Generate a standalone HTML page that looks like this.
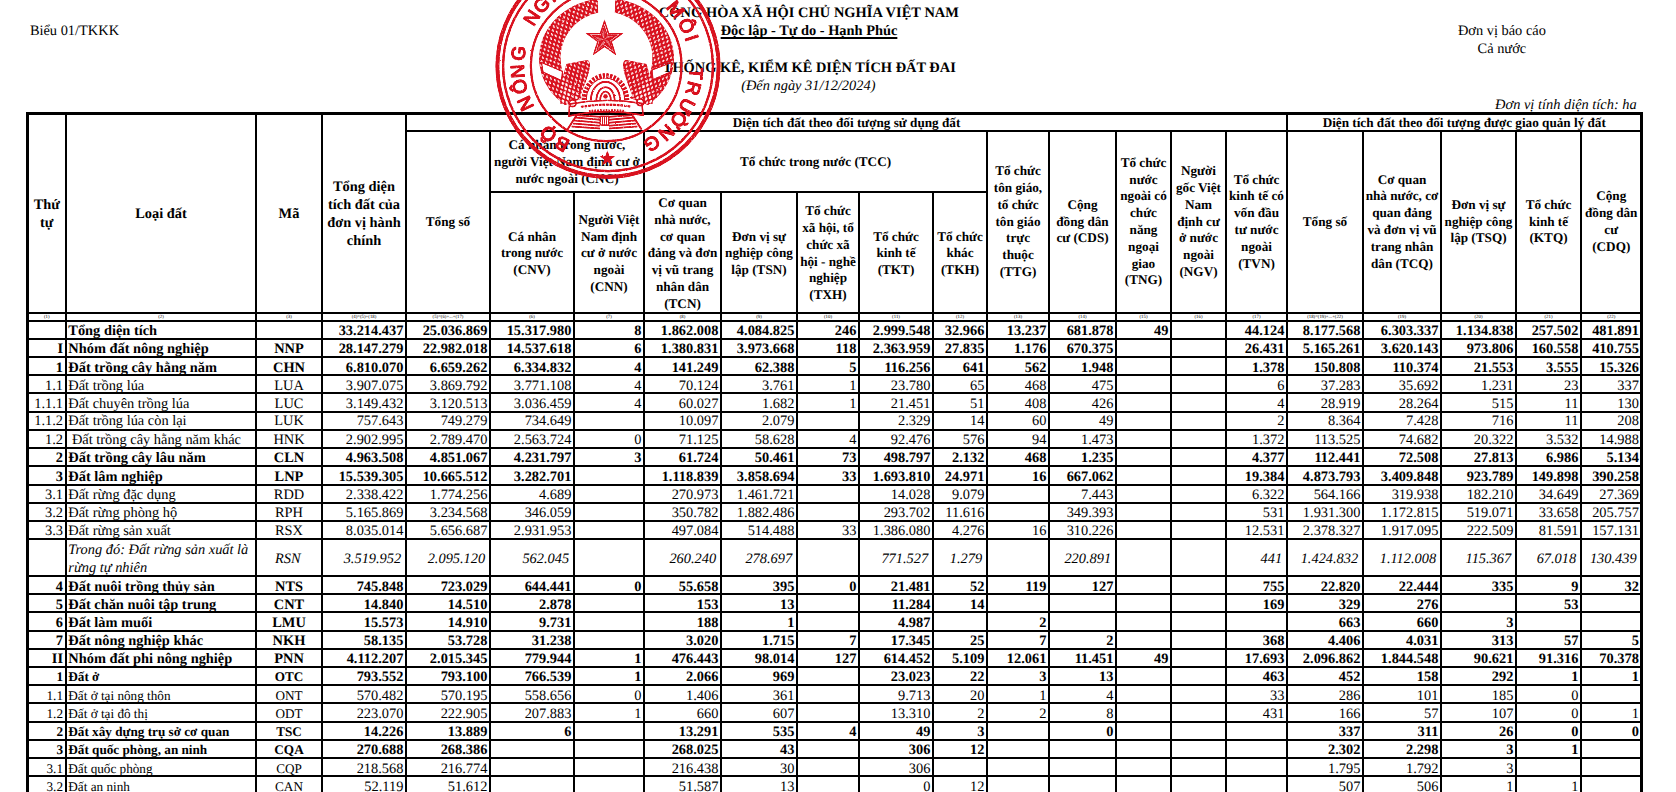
<!DOCTYPE html><html><head><meta charset="utf-8"><title>Bieu 01/TKKK</title><style>
html,body{margin:0;padding:0;background:#fff;width:1676px;height:792px;overflow:hidden}
#pg{text-rendering:geometricPrecision;width:1676px;height:792px;overflow:hidden;position:relative;font-family:"Liberation Serif",serif;color:#000;font-size:14.4px}
#pg div{position:absolute;white-space:nowrap;height:18px;line-height:18px;box-sizing:border-box}
.r{text-align:right}.m{text-align:center}.l{text-align:left}
.b{font-weight:bold}.i{font-style:italic}.s{font-size:13.2px}
.x{font-size:4.8px}
svg{position:absolute;left:0;top:0}

</style></head><body><div id="pg">
<svg width="1676" height="792" viewBox="0 0 1676 792" fill="#000" shape-rendering="crispEdges"><rect x="26" y="112" width="1617" height="3"/><rect x="405" y="130" width="1238" height="2"/><rect x="489" y="191" width="499" height="2"/><rect x="26" y="312" width="1617" height="2"/><rect x="26" y="320" width="1617" height="2"/><rect x="26" y="338" width="1617" height="2"/><rect x="26" y="356" width="1617" height="2"/><rect x="26" y="374" width="1617" height="2"/><rect x="26" y="392" width="1617" height="2"/><rect x="26" y="411" width="1617" height="2"/><rect x="26" y="429" width="1617" height="2"/><rect x="26" y="447" width="1617" height="2"/><rect x="26" y="465" width="1617" height="2"/><rect x="26" y="484" width="1617" height="2"/><rect x="26" y="502" width="1617" height="2"/><rect x="26" y="520" width="1617" height="2"/><rect x="26" y="538" width="1617" height="2"/><rect x="26" y="575" width="1617" height="2"/><rect x="26" y="593" width="1617" height="2"/><rect x="26" y="611" width="1617" height="2"/><rect x="26" y="630" width="1617" height="2"/><rect x="26" y="648" width="1617" height="2"/><rect x="26" y="666" width="1617" height="2"/><rect x="26" y="684" width="1617" height="2"/><rect x="26" y="702" width="1617" height="2"/><rect x="26" y="721" width="1617" height="2"/><rect x="26" y="739" width="1617" height="2"/><rect x="26" y="757" width="1617" height="2"/><rect x="26" y="775" width="1617" height="2"/><rect x="26" y="112" width="3" height="680"/><rect x="65" y="112" width="2" height="680"/><rect x="255" y="112" width="2" height="680"/><rect x="321" y="112" width="2" height="680"/><rect x="405" y="112" width="2" height="680"/><rect x="489" y="130" width="2" height="662"/><rect x="573" y="191" width="2" height="601"/><rect x="643" y="130" width="2" height="662"/><rect x="720" y="191" width="2" height="601"/><rect x="796" y="191" width="2" height="601"/><rect x="858" y="191" width="2" height="601"/><rect x="932" y="191" width="2" height="601"/><rect x="986" y="130" width="2" height="662"/><rect x="1048" y="130" width="2" height="662"/><rect x="1115" y="130" width="2" height="662"/><rect x="1170" y="130" width="2" height="662"/><rect x="1225" y="130" width="2" height="662"/><rect x="1286" y="112" width="2" height="680"/><rect x="1362" y="130" width="2" height="662"/><rect x="1440" y="130" width="2" height="662"/><rect x="1515" y="130" width="2" height="662"/><rect x="1580" y="130" width="2" height="662"/><rect x="1640" y="112" width="3" height="680"/></svg>
<div class="l " style="left:29.9px;width:270.1px;top:22px;">Biểu 01/TKKK</div>
<div class="m b" style="left:508.9px;width:600px;top:4px;letter-spacing:0.06px;">CỘNG HÒA XÃ HỘI CHỦ NGHĨA VIỆT NAM</div>
<div class="m b" style="left:509px;width:600px;top:22px;text-decoration:underline;text-decoration-thickness:1.8px;text-underline-offset:1.7px;text-decoration-skip-ink:none;">Độc lập - Tự do - Hạnh Phúc</div>
<div class="m b" style="left:509.3px;width:600px;top:59px;">THỐNG KÊ, KIỂM KÊ DIỆN TÍCH ĐẤT ĐAI</div>
<div class="m i" style="left:508.3px;width:600px;top:77px;">(Đến ngày 31/12/2024)</div>
<div class="m " style="left:1201.9px;width:600px;top:22px;">Đơn vị báo cáo</div>
<div class="m " style="left:1201.9px;width:600px;top:40px;">Cả nước</div>
<div class="r i" style="left:1200px;width:436.7px;top:96px;">Đơn vị tính diện tích: ha</div>
<div class="m b" style="left:27.5px;width:38.5px;top:196px;">Thứ</div>
<div class="m b" style="left:27.5px;width:38.5px;top:214px;">tự</div>
<div class="m b" style="left:66px;width:190px;top:205px;">Loại đất</div>
<div class="m b" style="left:256px;width:66px;top:205px;">Mã</div>
<div class="m b" style="left:322px;width:84px;top:178px;">Tổng diện</div>
<div class="m b" style="left:322px;width:84px;top:196px;">tích đất của</div>
<div class="m b" style="left:322px;width:84px;top:214px;">đơn vị hành</div>
<div class="m b" style="left:322px;width:84px;top:232px;">chính</div>
<div class="m b s" style="left:406px;width:881px;top:114px;">Diện tích đất theo đối tượng sử dụng đất</div>
<div class="m b s" style="left:1287px;width:354.5px;top:114px;">Diện tích đất theo đối tượng được giao quản lý đất</div>
<div class="m b s" style="left:406px;width:84px;top:213px;">Tổng số</div>
<div class="m b s" style="left:490px;width:154px;top:136px;">Cá nhân trong nước,</div>
<div class="m b s" style="left:490px;width:154px;top:153px;">người Việt Nam định cư ở</div>
<div class="m b s" style="left:490px;width:154px;top:170px;">nước ngoài (CNC)</div>
<div class="m b s" style="left:644px;width:343px;top:153px;">Tổ chức trong nước (TCC)</div>
<div class="m b s" style="left:490px;width:84px;top:228px;">Cá nhân</div>
<div class="m b s" style="left:490px;width:84px;top:244px;">trong nước</div>
<div class="m b s" style="left:490px;width:84px;top:261px;">(CNV)</div>
<div class="m b s" style="left:574px;width:70px;top:211px;">Người Việt</div>
<div class="m b s" style="left:574px;width:70px;top:228px;">Nam định</div>
<div class="m b s" style="left:574px;width:70px;top:244px;">cư ở nước</div>
<div class="m b s" style="left:574px;width:70px;top:261px;">ngoài</div>
<div class="m b s" style="left:574px;width:70px;top:278px;">(CNN)</div>
<div class="m b s" style="left:644px;width:77px;top:194px;">Cơ quan</div>
<div class="m b s" style="left:644px;width:77px;top:211px;">nhà nước,</div>
<div class="m b s" style="left:644px;width:77px;top:228px;">cơ quan</div>
<div class="m b s" style="left:644px;width:77px;top:244px;">đảng và đơn</div>
<div class="m b s" style="left:644px;width:77px;top:261px;">vị vũ trang</div>
<div class="m b s" style="left:644px;width:77px;top:278px;">nhân dân</div>
<div class="m b s" style="left:644px;width:77px;top:295px;">(TCN)</div>
<div class="m b s" style="left:721px;width:76px;top:228px;">Đơn vị sự</div>
<div class="m b s" style="left:721px;width:76px;top:244px;">nghiệp công</div>
<div class="m b s" style="left:721px;width:76px;top:261px;">lập (TSN)</div>
<div class="m b s" style="left:797px;width:62px;top:202px;">Tổ chức</div>
<div class="m b s" style="left:797px;width:62px;top:219px;">xã hội, tổ</div>
<div class="m b s" style="left:797px;width:62px;top:236px;">chức xã</div>
<div class="m b s" style="left:797px;width:62px;top:253px;">hội - nghề</div>
<div class="m b s" style="left:797px;width:62px;top:269px;">nghiệp</div>
<div class="m b s" style="left:797px;width:62px;top:286px;">(TXH)</div>
<div class="m b s" style="left:859px;width:74px;top:228px;">Tổ chức</div>
<div class="m b s" style="left:859px;width:74px;top:244px;">kinh tế</div>
<div class="m b s" style="left:859px;width:74px;top:261px;">(TKT)</div>
<div class="m b s" style="left:933px;width:54px;top:228px;">Tổ chức</div>
<div class="m b s" style="left:933px;width:54px;top:244px;">khác</div>
<div class="m b s" style="left:933px;width:54px;top:261px;">(TKH)</div>
<div class="m b s" style="left:987px;width:62px;top:162px;">Tổ chức</div>
<div class="m b s" style="left:987px;width:62px;top:179px;">tôn giáo,</div>
<div class="m b s" style="left:987px;width:62px;top:196px;">tổ chức</div>
<div class="m b s" style="left:987px;width:62px;top:213px;">tôn giáo</div>
<div class="m b s" style="left:987px;width:62px;top:229px;">trực</div>
<div class="m b s" style="left:987px;width:62px;top:246px;">thuộc</div>
<div class="m b s" style="left:987px;width:62px;top:263px;">(TTG)</div>
<div class="m b s" style="left:1049px;width:67px;top:196px;">Cộng</div>
<div class="m b s" style="left:1049px;width:67px;top:213px;">đồng dân</div>
<div class="m b s" style="left:1049px;width:67px;top:229px;">cư (CDS)</div>
<div class="m b s" style="left:1116px;width:55px;top:154px;">Tổ chức</div>
<div class="m b s" style="left:1116px;width:55px;top:171px;">nước</div>
<div class="m b s" style="left:1116px;width:55px;top:187px;">ngoài có</div>
<div class="m b s" style="left:1116px;width:55px;top:204px;">chức</div>
<div class="m b s" style="left:1116px;width:55px;top:221px;">năng</div>
<div class="m b s" style="left:1116px;width:55px;top:238px;">ngoại</div>
<div class="m b s" style="left:1116px;width:55px;top:255px;">giao</div>
<div class="m b s" style="left:1116px;width:55px;top:271px;">(TNG)</div>
<div class="m b s" style="left:1171px;width:55px;top:162px;">Người</div>
<div class="m b s" style="left:1171px;width:55px;top:179px;">gốc Việt</div>
<div class="m b s" style="left:1171px;width:55px;top:196px;">Nam</div>
<div class="m b s" style="left:1171px;width:55px;top:213px;">định cư</div>
<div class="m b s" style="left:1171px;width:55px;top:229px;">ở nước</div>
<div class="m b s" style="left:1171px;width:55px;top:246px;">ngoài</div>
<div class="m b s" style="left:1171px;width:55px;top:263px;">(NGV)</div>
<div class="m b s" style="left:1226px;width:61px;top:171px;">Tổ chức</div>
<div class="m b s" style="left:1226px;width:61px;top:187px;">kinh tế có</div>
<div class="m b s" style="left:1226px;width:61px;top:204px;">vốn đầu</div>
<div class="m b s" style="left:1226px;width:61px;top:221px;">tư nước</div>
<div class="m b s" style="left:1226px;width:61px;top:238px;">ngoài</div>
<div class="m b s" style="left:1226px;width:61px;top:255px;">(TVN)</div>
<div class="m b s" style="left:1287px;width:76px;top:213px;">Tổng số</div>
<div class="m b s" style="left:1363px;width:78px;top:171px;">Cơ quan</div>
<div class="m b s" style="left:1363px;width:78px;top:187px;">nhà nước, cơ</div>
<div class="m b s" style="left:1363px;width:78px;top:204px;">quan đảng</div>
<div class="m b s" style="left:1363px;width:78px;top:221px;">và đơn vị vũ</div>
<div class="m b s" style="left:1363px;width:78px;top:238px;">trang nhân</div>
<div class="m b s" style="left:1363px;width:78px;top:255px;">dân (TCQ)</div>
<div class="m b s" style="left:1441px;width:75px;top:196px;">Đơn vị sự</div>
<div class="m b s" style="left:1441px;width:75px;top:213px;">nghiệp công</div>
<div class="m b s" style="left:1441px;width:75px;top:229px;">lập (TSQ)</div>
<div class="m b s" style="left:1516px;width:65px;top:196px;">Tổ chức</div>
<div class="m b s" style="left:1516px;width:65px;top:213px;">kinh tế</div>
<div class="m b s" style="left:1516px;width:65px;top:229px;">(KTQ)</div>
<div class="m b s" style="left:1581px;width:60.5px;top:187px;">Cộng</div>
<div class="m b s" style="left:1581px;width:60.5px;top:204px;">đồng dân</div>
<div class="m b s" style="left:1581px;width:60.5px;top:221px;">cư</div>
<div class="m b s" style="left:1581px;width:60.5px;top:238px;">(CDQ)</div>
<div class="m x" style="left:27.5px;width:38.5px;top:314.4px;height:7px;line-height:7px">(1)</div>
<div class="m x" style="left:66px;width:190px;top:314.4px;height:7px;line-height:7px">(2)</div>
<div class="m x" style="left:256px;width:66px;top:314.4px;height:7px;line-height:7px">(3)</div>
<div class="m x" style="left:322px;width:84px;top:314.4px;height:7px;line-height:7px">(4)=(5)+(18)</div>
<div class="m x" style="left:406px;width:84px;top:314.4px;height:7px;line-height:7px">(5)=(6)+...+(17)</div>
<div class="m x" style="left:490px;width:84px;top:314.4px;height:7px;line-height:7px">(6)</div>
<div class="m x" style="left:574px;width:70px;top:314.4px;height:7px;line-height:7px">(7)</div>
<div class="m x" style="left:644px;width:77px;top:314.4px;height:7px;line-height:7px">(8)</div>
<div class="m x" style="left:721px;width:76px;top:314.4px;height:7px;line-height:7px">(9)</div>
<div class="m x" style="left:797px;width:62px;top:314.4px;height:7px;line-height:7px">(10)</div>
<div class="m x" style="left:859px;width:74px;top:314.4px;height:7px;line-height:7px">(11)</div>
<div class="m x" style="left:933px;width:54px;top:314.4px;height:7px;line-height:7px">(12)</div>
<div class="m x" style="left:987px;width:62px;top:314.4px;height:7px;line-height:7px">(13)</div>
<div class="m x" style="left:1049px;width:67px;top:314.4px;height:7px;line-height:7px">(14)</div>
<div class="m x" style="left:1116px;width:55px;top:314.4px;height:7px;line-height:7px">(15)</div>
<div class="m x" style="left:1171px;width:55px;top:314.4px;height:7px;line-height:7px">(16)</div>
<div class="m x" style="left:1226px;width:61px;top:314.4px;height:7px;line-height:7px">(17)</div>
<div class="m x" style="left:1287px;width:76px;top:314.4px;height:7px;line-height:7px">(18)=(19)+...+(22)</div>
<div class="m x" style="left:1363px;width:78px;top:314.4px;height:7px;line-height:7px">(19)</div>
<div class="m x" style="left:1441px;width:75px;top:314.4px;height:7px;line-height:7px">(20)</div>
<div class="m x" style="left:1516px;width:65px;top:314.4px;height:7px;line-height:7px">(21)</div>
<div class="m x" style="left:1581px;width:60.5px;top:314.4px;height:7px;line-height:7px">(22)</div>
<div class="l b" style="left:66px;width:190px;top:322px;padding-left:2.3px;">Tổng diện tích</div>
<div class="r b" style="left:322px;width:84px;top:322px;padding-right:2.6px;">33.214.437</div>
<div class="r b" style="left:406px;width:84px;top:322px;padding-right:2.6px;">25.036.869</div>
<div class="r b" style="left:490px;width:84px;top:322px;padding-right:2.6px;">15.317.980</div>
<div class="r b" style="left:574px;width:70px;top:322px;padding-right:2.6px;">8</div>
<div class="r b" style="left:644px;width:77px;top:322px;padding-right:2.6px;">1.862.008</div>
<div class="r b" style="left:721px;width:76px;top:322px;padding-right:2.6px;">4.084.825</div>
<div class="r b" style="left:797px;width:62px;top:322px;padding-right:2.6px;">246</div>
<div class="r b" style="left:859px;width:74px;top:322px;padding-right:2.6px;">2.999.548</div>
<div class="r b" style="left:933px;width:54px;top:322px;padding-right:2.6px;">32.966</div>
<div class="r b" style="left:987px;width:62px;top:322px;padding-right:2.6px;">13.237</div>
<div class="r b" style="left:1049px;width:67px;top:322px;padding-right:2.6px;">681.878</div>
<div class="r b" style="left:1116px;width:55px;top:322px;padding-right:2.6px;">49</div>
<div class="r b" style="left:1226px;width:61px;top:322px;padding-right:2.6px;">44.124</div>
<div class="r b" style="left:1287px;width:76px;top:322px;padding-right:2.6px;">8.177.568</div>
<div class="r b" style="left:1363px;width:78px;top:322px;padding-right:2.6px;">6.303.337</div>
<div class="r b" style="left:1441px;width:75px;top:322px;padding-right:2.6px;">1.134.838</div>
<div class="r b" style="left:1516px;width:65px;top:322px;padding-right:2.6px;">257.502</div>
<div class="r b" style="left:1581px;width:60.5px;top:322px;padding-right:2.6px;">481.891</div>
<div class="r b" style="left:27.5px;width:38.5px;top:340px;padding-right:3px;">I</div>
<div class="l b" style="left:66px;width:190px;top:340px;padding-left:2.3px;">Nhóm đất nông nghiệp</div>
<div class="m b" style="left:256px;width:66px;top:340px;">NNP</div>
<div class="r b" style="left:322px;width:84px;top:340px;padding-right:2.6px;">28.147.279</div>
<div class="r b" style="left:406px;width:84px;top:340px;padding-right:2.6px;">22.982.018</div>
<div class="r b" style="left:490px;width:84px;top:340px;padding-right:2.6px;">14.537.618</div>
<div class="r b" style="left:574px;width:70px;top:340px;padding-right:2.6px;">6</div>
<div class="r b" style="left:644px;width:77px;top:340px;padding-right:2.6px;">1.380.831</div>
<div class="r b" style="left:721px;width:76px;top:340px;padding-right:2.6px;">3.973.668</div>
<div class="r b" style="left:797px;width:62px;top:340px;padding-right:2.6px;">118</div>
<div class="r b" style="left:859px;width:74px;top:340px;padding-right:2.6px;">2.363.959</div>
<div class="r b" style="left:933px;width:54px;top:340px;padding-right:2.6px;">27.835</div>
<div class="r b" style="left:987px;width:62px;top:340px;padding-right:2.6px;">1.176</div>
<div class="r b" style="left:1049px;width:67px;top:340px;padding-right:2.6px;">670.375</div>
<div class="r b" style="left:1226px;width:61px;top:340px;padding-right:2.6px;">26.431</div>
<div class="r b" style="left:1287px;width:76px;top:340px;padding-right:2.6px;">5.165.261</div>
<div class="r b" style="left:1363px;width:78px;top:340px;padding-right:2.6px;">3.620.143</div>
<div class="r b" style="left:1441px;width:75px;top:340px;padding-right:2.6px;">973.806</div>
<div class="r b" style="left:1516px;width:65px;top:340px;padding-right:2.6px;">160.558</div>
<div class="r b" style="left:1581px;width:60.5px;top:340px;padding-right:2.6px;">410.755</div>
<div class="r b" style="left:27.5px;width:38.5px;top:359px;padding-right:3px;">1</div>
<div class="l b" style="left:66px;width:190px;top:359px;padding-left:2.3px;">Đất trồng cây hằng năm</div>
<div class="m b" style="left:256px;width:66px;top:359px;">CHN</div>
<div class="r b" style="left:322px;width:84px;top:359px;padding-right:2.6px;">6.810.070</div>
<div class="r b" style="left:406px;width:84px;top:359px;padding-right:2.6px;">6.659.262</div>
<div class="r b" style="left:490px;width:84px;top:359px;padding-right:2.6px;">6.334.832</div>
<div class="r b" style="left:574px;width:70px;top:359px;padding-right:2.6px;">4</div>
<div class="r b" style="left:644px;width:77px;top:359px;padding-right:2.6px;">141.249</div>
<div class="r b" style="left:721px;width:76px;top:359px;padding-right:2.6px;">62.388</div>
<div class="r b" style="left:797px;width:62px;top:359px;padding-right:2.6px;">5</div>
<div class="r b" style="left:859px;width:74px;top:359px;padding-right:2.6px;">116.256</div>
<div class="r b" style="left:933px;width:54px;top:359px;padding-right:2.6px;">641</div>
<div class="r b" style="left:987px;width:62px;top:359px;padding-right:2.6px;">562</div>
<div class="r b" style="left:1049px;width:67px;top:359px;padding-right:2.6px;">1.948</div>
<div class="r b" style="left:1226px;width:61px;top:359px;padding-right:2.6px;">1.378</div>
<div class="r b" style="left:1287px;width:76px;top:359px;padding-right:2.6px;">150.808</div>
<div class="r b" style="left:1363px;width:78px;top:359px;padding-right:2.6px;">110.374</div>
<div class="r b" style="left:1441px;width:75px;top:359px;padding-right:2.6px;">21.553</div>
<div class="r b" style="left:1516px;width:65px;top:359px;padding-right:2.6px;">3.555</div>
<div class="r b" style="left:1581px;width:60.5px;top:359px;padding-right:2.6px;">15.326</div>
<div class="r " style="left:27.5px;width:38.5px;top:377px;padding-right:3px;">1.1</div>
<div class="l " style="left:66px;width:190px;top:377px;padding-left:2.3px;">Đất trồng lúa</div>
<div class="m " style="left:256px;width:66px;top:377px;">LUA</div>
<div class="r " style="left:322px;width:84px;top:377px;padding-right:2.6px;">3.907.075</div>
<div class="r " style="left:406px;width:84px;top:377px;padding-right:2.6px;">3.869.792</div>
<div class="r " style="left:490px;width:84px;top:377px;padding-right:2.6px;">3.771.108</div>
<div class="r " style="left:574px;width:70px;top:377px;padding-right:2.6px;">4</div>
<div class="r " style="left:644px;width:77px;top:377px;padding-right:2.6px;">70.124</div>
<div class="r " style="left:721px;width:76px;top:377px;padding-right:2.6px;">3.761</div>
<div class="r " style="left:797px;width:62px;top:377px;padding-right:2.6px;">1</div>
<div class="r " style="left:859px;width:74px;top:377px;padding-right:2.6px;">23.780</div>
<div class="r " style="left:933px;width:54px;top:377px;padding-right:2.6px;">65</div>
<div class="r " style="left:987px;width:62px;top:377px;padding-right:2.6px;">468</div>
<div class="r " style="left:1049px;width:67px;top:377px;padding-right:2.6px;">475</div>
<div class="r " style="left:1226px;width:61px;top:377px;padding-right:2.6px;">6</div>
<div class="r " style="left:1287px;width:76px;top:377px;padding-right:2.6px;">37.283</div>
<div class="r " style="left:1363px;width:78px;top:377px;padding-right:2.6px;">35.692</div>
<div class="r " style="left:1441px;width:75px;top:377px;padding-right:2.6px;">1.231</div>
<div class="r " style="left:1516px;width:65px;top:377px;padding-right:2.6px;">23</div>
<div class="r " style="left:1581px;width:60.5px;top:377px;padding-right:2.6px;">337</div>
<div class="r " style="left:27.5px;width:38.5px;top:395px;padding-right:3px;">1.1.1</div>
<div class="l " style="left:66px;width:190px;top:395px;padding-left:2.3px;">Đất chuyên trồng lúa</div>
<div class="m " style="left:256px;width:66px;top:395px;">LUC</div>
<div class="r " style="left:322px;width:84px;top:395px;padding-right:2.6px;">3.149.432</div>
<div class="r " style="left:406px;width:84px;top:395px;padding-right:2.6px;">3.120.513</div>
<div class="r " style="left:490px;width:84px;top:395px;padding-right:2.6px;">3.036.459</div>
<div class="r " style="left:574px;width:70px;top:395px;padding-right:2.6px;">4</div>
<div class="r " style="left:644px;width:77px;top:395px;padding-right:2.6px;">60.027</div>
<div class="r " style="left:721px;width:76px;top:395px;padding-right:2.6px;">1.682</div>
<div class="r " style="left:797px;width:62px;top:395px;padding-right:2.6px;">1</div>
<div class="r " style="left:859px;width:74px;top:395px;padding-right:2.6px;">21.451</div>
<div class="r " style="left:933px;width:54px;top:395px;padding-right:2.6px;">51</div>
<div class="r " style="left:987px;width:62px;top:395px;padding-right:2.6px;">408</div>
<div class="r " style="left:1049px;width:67px;top:395px;padding-right:2.6px;">426</div>
<div class="r " style="left:1226px;width:61px;top:395px;padding-right:2.6px;">4</div>
<div class="r " style="left:1287px;width:76px;top:395px;padding-right:2.6px;">28.919</div>
<div class="r " style="left:1363px;width:78px;top:395px;padding-right:2.6px;">28.264</div>
<div class="r " style="left:1441px;width:75px;top:395px;padding-right:2.6px;">515</div>
<div class="r " style="left:1516px;width:65px;top:395px;padding-right:2.6px;">11</div>
<div class="r " style="left:1581px;width:60.5px;top:395px;padding-right:2.6px;">130</div>
<div class="r " style="left:27.5px;width:38.5px;top:412px;padding-right:3px;">1.1.2</div>
<div class="l " style="left:66px;width:190px;top:412px;padding-left:2.3px;">Đất trồng lúa còn lại</div>
<div class="m " style="left:256px;width:66px;top:412px;">LUK</div>
<div class="r " style="left:322px;width:84px;top:412px;padding-right:2.6px;">757.643</div>
<div class="r " style="left:406px;width:84px;top:412px;padding-right:2.6px;">749.279</div>
<div class="r " style="left:490px;width:84px;top:412px;padding-right:2.6px;">734.649</div>
<div class="r " style="left:644px;width:77px;top:412px;padding-right:2.6px;">10.097</div>
<div class="r " style="left:721px;width:76px;top:412px;padding-right:2.6px;">2.079</div>
<div class="r " style="left:859px;width:74px;top:412px;padding-right:2.6px;">2.329</div>
<div class="r " style="left:933px;width:54px;top:412px;padding-right:2.6px;">14</div>
<div class="r " style="left:987px;width:62px;top:412px;padding-right:2.6px;">60</div>
<div class="r " style="left:1049px;width:67px;top:412px;padding-right:2.6px;">49</div>
<div class="r " style="left:1226px;width:61px;top:412px;padding-right:2.6px;">2</div>
<div class="r " style="left:1287px;width:76px;top:412px;padding-right:2.6px;">8.364</div>
<div class="r " style="left:1363px;width:78px;top:412px;padding-right:2.6px;">7.428</div>
<div class="r " style="left:1441px;width:75px;top:412px;padding-right:2.6px;">716</div>
<div class="r " style="left:1516px;width:65px;top:412px;padding-right:2.6px;">11</div>
<div class="r " style="left:1581px;width:60.5px;top:412px;padding-right:2.6px;">208</div>
<div class="r " style="left:27.5px;width:38.5px;top:431px;padding-right:3px;">1.2</div>
<div class="l " style="left:66px;width:190px;top:431px;padding-left:2.3px;"> Đất trồng cây hằng năm khác</div>
<div class="m " style="left:256px;width:66px;top:431px;">HNK</div>
<div class="r " style="left:322px;width:84px;top:431px;padding-right:2.6px;">2.902.995</div>
<div class="r " style="left:406px;width:84px;top:431px;padding-right:2.6px;">2.789.470</div>
<div class="r " style="left:490px;width:84px;top:431px;padding-right:2.6px;">2.563.724</div>
<div class="r " style="left:574px;width:70px;top:431px;padding-right:2.6px;">0</div>
<div class="r " style="left:644px;width:77px;top:431px;padding-right:2.6px;">71.125</div>
<div class="r " style="left:721px;width:76px;top:431px;padding-right:2.6px;">58.628</div>
<div class="r " style="left:797px;width:62px;top:431px;padding-right:2.6px;">4</div>
<div class="r " style="left:859px;width:74px;top:431px;padding-right:2.6px;">92.476</div>
<div class="r " style="left:933px;width:54px;top:431px;padding-right:2.6px;">576</div>
<div class="r " style="left:987px;width:62px;top:431px;padding-right:2.6px;">94</div>
<div class="r " style="left:1049px;width:67px;top:431px;padding-right:2.6px;">1.473</div>
<div class="r " style="left:1226px;width:61px;top:431px;padding-right:2.6px;">1.372</div>
<div class="r " style="left:1287px;width:76px;top:431px;padding-right:2.6px;">113.525</div>
<div class="r " style="left:1363px;width:78px;top:431px;padding-right:2.6px;">74.682</div>
<div class="r " style="left:1441px;width:75px;top:431px;padding-right:2.6px;">20.322</div>
<div class="r " style="left:1516px;width:65px;top:431px;padding-right:2.6px;">3.532</div>
<div class="r " style="left:1581px;width:60.5px;top:431px;padding-right:2.6px;">14.988</div>
<div class="r b" style="left:27.5px;width:38.5px;top:449px;padding-right:3px;">2</div>
<div class="l b" style="left:66px;width:190px;top:449px;padding-left:2.3px;">Đất trồng cây lâu năm</div>
<div class="m b" style="left:256px;width:66px;top:449px;">CLN</div>
<div class="r b" style="left:322px;width:84px;top:449px;padding-right:2.6px;">4.963.508</div>
<div class="r b" style="left:406px;width:84px;top:449px;padding-right:2.6px;">4.851.067</div>
<div class="r b" style="left:490px;width:84px;top:449px;padding-right:2.6px;">4.231.797</div>
<div class="r b" style="left:574px;width:70px;top:449px;padding-right:2.6px;">3</div>
<div class="r b" style="left:644px;width:77px;top:449px;padding-right:2.6px;">61.724</div>
<div class="r b" style="left:721px;width:76px;top:449px;padding-right:2.6px;">50.461</div>
<div class="r b" style="left:797px;width:62px;top:449px;padding-right:2.6px;">73</div>
<div class="r b" style="left:859px;width:74px;top:449px;padding-right:2.6px;">498.797</div>
<div class="r b" style="left:933px;width:54px;top:449px;padding-right:2.6px;">2.132</div>
<div class="r b" style="left:987px;width:62px;top:449px;padding-right:2.6px;">468</div>
<div class="r b" style="left:1049px;width:67px;top:449px;padding-right:2.6px;">1.235</div>
<div class="r b" style="left:1226px;width:61px;top:449px;padding-right:2.6px;">4.377</div>
<div class="r b" style="left:1287px;width:76px;top:449px;padding-right:2.6px;">112.441</div>
<div class="r b" style="left:1363px;width:78px;top:449px;padding-right:2.6px;">72.508</div>
<div class="r b" style="left:1441px;width:75px;top:449px;padding-right:2.6px;">27.813</div>
<div class="r b" style="left:1516px;width:65px;top:449px;padding-right:2.6px;">6.986</div>
<div class="r b" style="left:1581px;width:60.5px;top:449px;padding-right:2.6px;">5.134</div>
<div class="r b" style="left:27.5px;width:38.5px;top:468px;padding-right:3px;">3</div>
<div class="l b" style="left:66px;width:190px;top:468px;padding-left:2.3px;">Đất lâm nghiệp</div>
<div class="m b" style="left:256px;width:66px;top:468px;">LNP</div>
<div class="r b" style="left:322px;width:84px;top:468px;padding-right:2.6px;">15.539.305</div>
<div class="r b" style="left:406px;width:84px;top:468px;padding-right:2.6px;">10.665.512</div>
<div class="r b" style="left:490px;width:84px;top:468px;padding-right:2.6px;">3.282.701</div>
<div class="r b" style="left:644px;width:77px;top:468px;padding-right:2.6px;">1.118.839</div>
<div class="r b" style="left:721px;width:76px;top:468px;padding-right:2.6px;">3.858.694</div>
<div class="r b" style="left:797px;width:62px;top:468px;padding-right:2.6px;">33</div>
<div class="r b" style="left:859px;width:74px;top:468px;padding-right:2.6px;">1.693.810</div>
<div class="r b" style="left:933px;width:54px;top:468px;padding-right:2.6px;">24.971</div>
<div class="r b" style="left:987px;width:62px;top:468px;padding-right:2.6px;">16</div>
<div class="r b" style="left:1049px;width:67px;top:468px;padding-right:2.6px;">667.062</div>
<div class="r b" style="left:1226px;width:61px;top:468px;padding-right:2.6px;">19.384</div>
<div class="r b" style="left:1287px;width:76px;top:468px;padding-right:2.6px;">4.873.793</div>
<div class="r b" style="left:1363px;width:78px;top:468px;padding-right:2.6px;">3.409.848</div>
<div class="r b" style="left:1441px;width:75px;top:468px;padding-right:2.6px;">923.789</div>
<div class="r b" style="left:1516px;width:65px;top:468px;padding-right:2.6px;">149.898</div>
<div class="r b" style="left:1581px;width:60.5px;top:468px;padding-right:2.6px;">390.258</div>
<div class="r " style="left:27.5px;width:38.5px;top:486px;padding-right:3px;">3.1</div>
<div class="l " style="left:66px;width:190px;top:486px;padding-left:2.3px;">Đất rừng đặc dụng</div>
<div class="m " style="left:256px;width:66px;top:486px;">RDD</div>
<div class="r " style="left:322px;width:84px;top:486px;padding-right:2.6px;">2.338.422</div>
<div class="r " style="left:406px;width:84px;top:486px;padding-right:2.6px;">1.774.256</div>
<div class="r " style="left:490px;width:84px;top:486px;padding-right:2.6px;">4.689</div>
<div class="r " style="left:644px;width:77px;top:486px;padding-right:2.6px;">270.973</div>
<div class="r " style="left:721px;width:76px;top:486px;padding-right:2.6px;">1.461.721</div>
<div class="r " style="left:859px;width:74px;top:486px;padding-right:2.6px;">14.028</div>
<div class="r " style="left:933px;width:54px;top:486px;padding-right:2.6px;">9.079</div>
<div class="r " style="left:1049px;width:67px;top:486px;padding-right:2.6px;">7.443</div>
<div class="r " style="left:1226px;width:61px;top:486px;padding-right:2.6px;">6.322</div>
<div class="r " style="left:1287px;width:76px;top:486px;padding-right:2.6px;">564.166</div>
<div class="r " style="left:1363px;width:78px;top:486px;padding-right:2.6px;">319.938</div>
<div class="r " style="left:1441px;width:75px;top:486px;padding-right:2.6px;">182.210</div>
<div class="r " style="left:1516px;width:65px;top:486px;padding-right:2.6px;">34.649</div>
<div class="r " style="left:1581px;width:60.5px;top:486px;padding-right:2.6px;">27.369</div>
<div class="r " style="left:27.5px;width:38.5px;top:504px;padding-right:3px;">3.2</div>
<div class="l " style="left:66px;width:190px;top:504px;padding-left:2.3px;">Đất rừng phòng hộ</div>
<div class="m " style="left:256px;width:66px;top:504px;">RPH</div>
<div class="r " style="left:322px;width:84px;top:504px;padding-right:2.6px;">5.165.869</div>
<div class="r " style="left:406px;width:84px;top:504px;padding-right:2.6px;">3.234.568</div>
<div class="r " style="left:490px;width:84px;top:504px;padding-right:2.6px;">346.059</div>
<div class="r " style="left:644px;width:77px;top:504px;padding-right:2.6px;">350.782</div>
<div class="r " style="left:721px;width:76px;top:504px;padding-right:2.6px;">1.882.486</div>
<div class="r " style="left:859px;width:74px;top:504px;padding-right:2.6px;">293.702</div>
<div class="r " style="left:933px;width:54px;top:504px;padding-right:2.6px;">11.616</div>
<div class="r " style="left:1049px;width:67px;top:504px;padding-right:2.6px;">349.393</div>
<div class="r " style="left:1226px;width:61px;top:504px;padding-right:2.6px;">531</div>
<div class="r " style="left:1287px;width:76px;top:504px;padding-right:2.6px;">1.931.300</div>
<div class="r " style="left:1363px;width:78px;top:504px;padding-right:2.6px;">1.172.815</div>
<div class="r " style="left:1441px;width:75px;top:504px;padding-right:2.6px;">519.071</div>
<div class="r " style="left:1516px;width:65px;top:504px;padding-right:2.6px;">33.658</div>
<div class="r " style="left:1581px;width:60.5px;top:504px;padding-right:2.6px;">205.757</div>
<div class="r " style="left:27.5px;width:38.5px;top:522px;padding-right:3px;">3.3</div>
<div class="l " style="left:66px;width:190px;top:522px;padding-left:2.3px;">Đất rừng sản xuất</div>
<div class="m " style="left:256px;width:66px;top:522px;">RSX</div>
<div class="r " style="left:322px;width:84px;top:522px;padding-right:2.6px;">8.035.014</div>
<div class="r " style="left:406px;width:84px;top:522px;padding-right:2.6px;">5.656.687</div>
<div class="r " style="left:490px;width:84px;top:522px;padding-right:2.6px;">2.931.953</div>
<div class="r " style="left:644px;width:77px;top:522px;padding-right:2.6px;">497.084</div>
<div class="r " style="left:721px;width:76px;top:522px;padding-right:2.6px;">514.488</div>
<div class="r " style="left:797px;width:62px;top:522px;padding-right:2.6px;">33</div>
<div class="r " style="left:859px;width:74px;top:522px;padding-right:2.6px;">1.386.080</div>
<div class="r " style="left:933px;width:54px;top:522px;padding-right:2.6px;">4.276</div>
<div class="r " style="left:987px;width:62px;top:522px;padding-right:2.6px;">16</div>
<div class="r " style="left:1049px;width:67px;top:522px;padding-right:2.6px;">310.226</div>
<div class="r " style="left:1226px;width:61px;top:522px;padding-right:2.6px;">12.531</div>
<div class="r " style="left:1287px;width:76px;top:522px;padding-right:2.6px;">2.378.327</div>
<div class="r " style="left:1363px;width:78px;top:522px;padding-right:2.6px;">1.917.095</div>
<div class="r " style="left:1441px;width:75px;top:522px;padding-right:2.6px;">222.509</div>
<div class="r " style="left:1516px;width:65px;top:522px;padding-right:2.6px;">81.591</div>
<div class="r " style="left:1581px;width:60.5px;top:522px;padding-right:2.6px;">157.131</div>
<div class="l  i" style="left:66px;width:190px;top:541px;padding-left:2.3px;">Trong đó: Đất rừng sản xuất là</div>
<div class="l  i" style="left:66px;width:190px;top:559px;padding-left:2.3px;">rừng tự nhiên</div>
<div class="m  i" style="left:254.8px;width:66px;top:550px;">RSN</div>
<div class="r  i" style="left:322px;width:84px;top:550px;padding-right:4.8px;">3.519.952</div>
<div class="r  i" style="left:406px;width:84px;top:550px;padding-right:4.8px;">2.095.120</div>
<div class="r  i" style="left:490px;width:84px;top:550px;padding-right:4.8px;">562.045</div>
<div class="r  i" style="left:644px;width:77px;top:550px;padding-right:4.8px;">260.240</div>
<div class="r  i" style="left:721px;width:76px;top:550px;padding-right:4.8px;">278.697</div>
<div class="r  i" style="left:859px;width:74px;top:550px;padding-right:4.8px;">771.527</div>
<div class="r  i" style="left:933px;width:54px;top:550px;padding-right:4.8px;">1.279</div>
<div class="r  i" style="left:1049px;width:67px;top:550px;padding-right:4.8px;">220.891</div>
<div class="r  i" style="left:1226px;width:61px;top:550px;padding-right:4.8px;">441</div>
<div class="r  i" style="left:1287px;width:76px;top:550px;padding-right:4.8px;">1.424.832</div>
<div class="r  i" style="left:1363px;width:78px;top:550px;padding-right:4.8px;">1.112.008</div>
<div class="r  i" style="left:1441px;width:75px;top:550px;padding-right:4.8px;">115.367</div>
<div class="r  i" style="left:1516px;width:65px;top:550px;padding-right:4.8px;">67.018</div>
<div class="r  i" style="left:1581px;width:60.5px;top:550px;padding-right:4.8px;">130.439</div>
<div class="r b" style="left:27.5px;width:38.5px;top:578px;padding-right:3px;">4</div>
<div class="l b" style="left:66px;width:190px;top:578px;padding-left:2.3px;">Đất nuôi trồng thủy sản</div>
<div class="m b" style="left:256px;width:66px;top:578px;">NTS</div>
<div class="r b" style="left:322px;width:84px;top:578px;padding-right:2.6px;">745.848</div>
<div class="r b" style="left:406px;width:84px;top:578px;padding-right:2.6px;">723.029</div>
<div class="r b" style="left:490px;width:84px;top:578px;padding-right:2.6px;">644.441</div>
<div class="r b" style="left:574px;width:70px;top:578px;padding-right:2.6px;">0</div>
<div class="r b" style="left:644px;width:77px;top:578px;padding-right:2.6px;">55.658</div>
<div class="r b" style="left:721px;width:76px;top:578px;padding-right:2.6px;">395</div>
<div class="r b" style="left:797px;width:62px;top:578px;padding-right:2.6px;">0</div>
<div class="r b" style="left:859px;width:74px;top:578px;padding-right:2.6px;">21.481</div>
<div class="r b" style="left:933px;width:54px;top:578px;padding-right:2.6px;">52</div>
<div class="r b" style="left:987px;width:62px;top:578px;padding-right:2.6px;">119</div>
<div class="r b" style="left:1049px;width:67px;top:578px;padding-right:2.6px;">127</div>
<div class="r b" style="left:1226px;width:61px;top:578px;padding-right:2.6px;">755</div>
<div class="r b" style="left:1287px;width:76px;top:578px;padding-right:2.6px;">22.820</div>
<div class="r b" style="left:1363px;width:78px;top:578px;padding-right:2.6px;">22.444</div>
<div class="r b" style="left:1441px;width:75px;top:578px;padding-right:2.6px;">335</div>
<div class="r b" style="left:1516px;width:65px;top:578px;padding-right:2.6px;">9</div>
<div class="r b" style="left:1581px;width:60.5px;top:578px;padding-right:2.6px;">32</div>
<div class="r b" style="left:27.5px;width:38.5px;top:596px;padding-right:3px;">5</div>
<div class="l b" style="left:66px;width:190px;top:596px;padding-left:2.3px;">Đất chăn nuôi tập trung</div>
<div class="m b" style="left:256px;width:66px;top:596px;">CNT</div>
<div class="r b" style="left:322px;width:84px;top:596px;padding-right:2.6px;">14.840</div>
<div class="r b" style="left:406px;width:84px;top:596px;padding-right:2.6px;">14.510</div>
<div class="r b" style="left:490px;width:84px;top:596px;padding-right:2.6px;">2.878</div>
<div class="r b" style="left:644px;width:77px;top:596px;padding-right:2.6px;">153</div>
<div class="r b" style="left:721px;width:76px;top:596px;padding-right:2.6px;">13</div>
<div class="r b" style="left:859px;width:74px;top:596px;padding-right:2.6px;">11.284</div>
<div class="r b" style="left:933px;width:54px;top:596px;padding-right:2.6px;">14</div>
<div class="r b" style="left:1226px;width:61px;top:596px;padding-right:2.6px;">169</div>
<div class="r b" style="left:1287px;width:76px;top:596px;padding-right:2.6px;">329</div>
<div class="r b" style="left:1363px;width:78px;top:596px;padding-right:2.6px;">276</div>
<div class="r b" style="left:1516px;width:65px;top:596px;padding-right:2.6px;">53</div>
<div class="r b" style="left:27.5px;width:38.5px;top:614px;padding-right:3px;">6</div>
<div class="l b" style="left:66px;width:190px;top:614px;padding-left:2.3px;">Đất làm muối</div>
<div class="m b" style="left:256px;width:66px;top:614px;">LMU</div>
<div class="r b" style="left:322px;width:84px;top:614px;padding-right:2.6px;">15.573</div>
<div class="r b" style="left:406px;width:84px;top:614px;padding-right:2.6px;">14.910</div>
<div class="r b" style="left:490px;width:84px;top:614px;padding-right:2.6px;">9.731</div>
<div class="r b" style="left:644px;width:77px;top:614px;padding-right:2.6px;">188</div>
<div class="r b" style="left:721px;width:76px;top:614px;padding-right:2.6px;">1</div>
<div class="r b" style="left:859px;width:74px;top:614px;padding-right:2.6px;">4.987</div>
<div class="r b" style="left:987px;width:62px;top:614px;padding-right:2.6px;">2</div>
<div class="r b" style="left:1287px;width:76px;top:614px;padding-right:2.6px;">663</div>
<div class="r b" style="left:1363px;width:78px;top:614px;padding-right:2.6px;">660</div>
<div class="r b" style="left:1441px;width:75px;top:614px;padding-right:2.6px;">3</div>
<div class="r b" style="left:27.5px;width:38.5px;top:632px;padding-right:3px;">7</div>
<div class="l b" style="left:66px;width:190px;top:632px;padding-left:2.3px;">Đất nông nghiệp khác</div>
<div class="m b" style="left:256px;width:66px;top:632px;">NKH</div>
<div class="r b" style="left:322px;width:84px;top:632px;padding-right:2.6px;">58.135</div>
<div class="r b" style="left:406px;width:84px;top:632px;padding-right:2.6px;">53.728</div>
<div class="r b" style="left:490px;width:84px;top:632px;padding-right:2.6px;">31.238</div>
<div class="r b" style="left:644px;width:77px;top:632px;padding-right:2.6px;">3.020</div>
<div class="r b" style="left:721px;width:76px;top:632px;padding-right:2.6px;">1.715</div>
<div class="r b" style="left:797px;width:62px;top:632px;padding-right:2.6px;">7</div>
<div class="r b" style="left:859px;width:74px;top:632px;padding-right:2.6px;">17.345</div>
<div class="r b" style="left:933px;width:54px;top:632px;padding-right:2.6px;">25</div>
<div class="r b" style="left:987px;width:62px;top:632px;padding-right:2.6px;">7</div>
<div class="r b" style="left:1049px;width:67px;top:632px;padding-right:2.6px;">2</div>
<div class="r b" style="left:1226px;width:61px;top:632px;padding-right:2.6px;">368</div>
<div class="r b" style="left:1287px;width:76px;top:632px;padding-right:2.6px;">4.406</div>
<div class="r b" style="left:1363px;width:78px;top:632px;padding-right:2.6px;">4.031</div>
<div class="r b" style="left:1441px;width:75px;top:632px;padding-right:2.6px;">313</div>
<div class="r b" style="left:1516px;width:65px;top:632px;padding-right:2.6px;">57</div>
<div class="r b" style="left:1581px;width:60.5px;top:632px;padding-right:2.6px;">5</div>
<div class="r b" style="left:27.5px;width:38.5px;top:650px;padding-right:3px;">II</div>
<div class="l b" style="left:66px;width:190px;top:650px;padding-left:2.3px;">Nhóm đất phi nông nghiệp</div>
<div class="m b" style="left:256px;width:66px;top:650px;">PNN</div>
<div class="r b" style="left:322px;width:84px;top:650px;padding-right:2.6px;">4.112.207</div>
<div class="r b" style="left:406px;width:84px;top:650px;padding-right:2.6px;">2.015.345</div>
<div class="r b" style="left:490px;width:84px;top:650px;padding-right:2.6px;">779.944</div>
<div class="r b" style="left:574px;width:70px;top:650px;padding-right:2.6px;">1</div>
<div class="r b" style="left:644px;width:77px;top:650px;padding-right:2.6px;">476.443</div>
<div class="r b" style="left:721px;width:76px;top:650px;padding-right:2.6px;">98.014</div>
<div class="r b" style="left:797px;width:62px;top:650px;padding-right:2.6px;">127</div>
<div class="r b" style="left:859px;width:74px;top:650px;padding-right:2.6px;">614.452</div>
<div class="r b" style="left:933px;width:54px;top:650px;padding-right:2.6px;">5.109</div>
<div class="r b" style="left:987px;width:62px;top:650px;padding-right:2.6px;">12.061</div>
<div class="r b" style="left:1049px;width:67px;top:650px;padding-right:2.6px;">11.451</div>
<div class="r b" style="left:1116px;width:55px;top:650px;padding-right:2.6px;">49</div>
<div class="r b" style="left:1226px;width:61px;top:650px;padding-right:2.6px;">17.693</div>
<div class="r b" style="left:1287px;width:76px;top:650px;padding-right:2.6px;">2.096.862</div>
<div class="r b" style="left:1363px;width:78px;top:650px;padding-right:2.6px;">1.844.548</div>
<div class="r b" style="left:1441px;width:75px;top:650px;padding-right:2.6px;">90.621</div>
<div class="r b" style="left:1516px;width:65px;top:650px;padding-right:2.6px;">91.316</div>
<div class="r b" style="left:1581px;width:60.5px;top:650px;padding-right:2.6px;">70.378</div>
<div class="r b s" style="left:27.5px;width:38.5px;top:668px;padding-right:3px;">1</div>
<div class="l b s" style="left:66px;width:190px;top:668px;padding-left:2.3px;">Đất ở</div>
<div class="m b s" style="left:256px;width:66px;top:668px;">OTC</div>
<div class="r b" style="left:322px;width:84px;top:668px;padding-right:2.6px;">793.552</div>
<div class="r b" style="left:406px;width:84px;top:668px;padding-right:2.6px;">793.100</div>
<div class="r b" style="left:490px;width:84px;top:668px;padding-right:2.6px;">766.539</div>
<div class="r b" style="left:574px;width:70px;top:668px;padding-right:2.6px;">1</div>
<div class="r b" style="left:644px;width:77px;top:668px;padding-right:2.6px;">2.066</div>
<div class="r b" style="left:721px;width:76px;top:668px;padding-right:2.6px;">969</div>
<div class="r b" style="left:859px;width:74px;top:668px;padding-right:2.6px;">23.023</div>
<div class="r b" style="left:933px;width:54px;top:668px;padding-right:2.6px;">22</div>
<div class="r b" style="left:987px;width:62px;top:668px;padding-right:2.6px;">3</div>
<div class="r b" style="left:1049px;width:67px;top:668px;padding-right:2.6px;">13</div>
<div class="r b" style="left:1226px;width:61px;top:668px;padding-right:2.6px;">463</div>
<div class="r b" style="left:1287px;width:76px;top:668px;padding-right:2.6px;">452</div>
<div class="r b" style="left:1363px;width:78px;top:668px;padding-right:2.6px;">158</div>
<div class="r b" style="left:1441px;width:75px;top:668px;padding-right:2.6px;">292</div>
<div class="r b" style="left:1516px;width:65px;top:668px;padding-right:2.6px;">1</div>
<div class="r b" style="left:1581px;width:60.5px;top:668px;padding-right:2.6px;">1</div>
<div class="r  s" style="left:27.5px;width:38.5px;top:687px;padding-right:3px;">1.1</div>
<div class="l  s" style="left:66px;width:190px;top:687px;padding-left:2.3px;">Đất ở tại nông thôn</div>
<div class="m  s" style="left:256px;width:66px;top:687px;">ONT</div>
<div class="r " style="left:322px;width:84px;top:687px;padding-right:2.6px;">570.482</div>
<div class="r " style="left:406px;width:84px;top:687px;padding-right:2.6px;">570.195</div>
<div class="r " style="left:490px;width:84px;top:687px;padding-right:2.6px;">558.656</div>
<div class="r " style="left:574px;width:70px;top:687px;padding-right:2.6px;">0</div>
<div class="r " style="left:644px;width:77px;top:687px;padding-right:2.6px;">1.406</div>
<div class="r " style="left:721px;width:76px;top:687px;padding-right:2.6px;">361</div>
<div class="r " style="left:859px;width:74px;top:687px;padding-right:2.6px;">9.713</div>
<div class="r " style="left:933px;width:54px;top:687px;padding-right:2.6px;">20</div>
<div class="r " style="left:987px;width:62px;top:687px;padding-right:2.6px;">1</div>
<div class="r " style="left:1049px;width:67px;top:687px;padding-right:2.6px;">4</div>
<div class="r " style="left:1226px;width:61px;top:687px;padding-right:2.6px;">33</div>
<div class="r " style="left:1287px;width:76px;top:687px;padding-right:2.6px;">286</div>
<div class="r " style="left:1363px;width:78px;top:687px;padding-right:2.6px;">101</div>
<div class="r " style="left:1441px;width:75px;top:687px;padding-right:2.6px;">185</div>
<div class="r " style="left:1516px;width:65px;top:687px;padding-right:2.6px;">0</div>
<div class="r  s" style="left:27.5px;width:38.5px;top:705px;padding-right:3px;">1.2</div>
<div class="l  s" style="left:66px;width:190px;top:705px;padding-left:2.3px;">Đất ở tại đô thị</div>
<div class="m  s" style="left:256px;width:66px;top:705px;">ODT</div>
<div class="r " style="left:322px;width:84px;top:705px;padding-right:2.6px;">223.070</div>
<div class="r " style="left:406px;width:84px;top:705px;padding-right:2.6px;">222.905</div>
<div class="r " style="left:490px;width:84px;top:705px;padding-right:2.6px;">207.883</div>
<div class="r " style="left:574px;width:70px;top:705px;padding-right:2.6px;">1</div>
<div class="r " style="left:644px;width:77px;top:705px;padding-right:2.6px;">660</div>
<div class="r " style="left:721px;width:76px;top:705px;padding-right:2.6px;">607</div>
<div class="r " style="left:859px;width:74px;top:705px;padding-right:2.6px;">13.310</div>
<div class="r " style="left:933px;width:54px;top:705px;padding-right:2.6px;">2</div>
<div class="r " style="left:987px;width:62px;top:705px;padding-right:2.6px;">2</div>
<div class="r " style="left:1049px;width:67px;top:705px;padding-right:2.6px;">8</div>
<div class="r " style="left:1226px;width:61px;top:705px;padding-right:2.6px;">431</div>
<div class="r " style="left:1287px;width:76px;top:705px;padding-right:2.6px;">166</div>
<div class="r " style="left:1363px;width:78px;top:705px;padding-right:2.6px;">57</div>
<div class="r " style="left:1441px;width:75px;top:705px;padding-right:2.6px;">107</div>
<div class="r " style="left:1516px;width:65px;top:705px;padding-right:2.6px;">0</div>
<div class="r " style="left:1581px;width:60.5px;top:705px;padding-right:2.6px;">1</div>
<div class="r b s" style="left:27.5px;width:38.5px;top:723px;padding-right:3px;">2</div>
<div class="l b s" style="left:66px;width:190px;top:723px;padding-left:2.3px;">Đất xây dựng trụ sở cơ quan</div>
<div class="m b s" style="left:256px;width:66px;top:723px;">TSC</div>
<div class="r b" style="left:322px;width:84px;top:723px;padding-right:2.6px;">14.226</div>
<div class="r b" style="left:406px;width:84px;top:723px;padding-right:2.6px;">13.889</div>
<div class="r b" style="left:490px;width:84px;top:723px;padding-right:2.6px;">6</div>
<div class="r b" style="left:644px;width:77px;top:723px;padding-right:2.6px;">13.291</div>
<div class="r b" style="left:721px;width:76px;top:723px;padding-right:2.6px;">535</div>
<div class="r b" style="left:797px;width:62px;top:723px;padding-right:2.6px;">4</div>
<div class="r b" style="left:859px;width:74px;top:723px;padding-right:2.6px;">49</div>
<div class="r b" style="left:933px;width:54px;top:723px;padding-right:2.6px;">3</div>
<div class="r b" style="left:1049px;width:67px;top:723px;padding-right:2.6px;">0</div>
<div class="r b" style="left:1287px;width:76px;top:723px;padding-right:2.6px;">337</div>
<div class="r b" style="left:1363px;width:78px;top:723px;padding-right:2.6px;">311</div>
<div class="r b" style="left:1441px;width:75px;top:723px;padding-right:2.6px;">26</div>
<div class="r b" style="left:1516px;width:65px;top:723px;padding-right:2.6px;">0</div>
<div class="r b" style="left:1581px;width:60.5px;top:723px;padding-right:2.6px;">0</div>
<div class="r b s" style="left:27.5px;width:38.5px;top:741px;padding-right:3px;">3</div>
<div class="l b s" style="left:66px;width:190px;top:741px;padding-left:2.3px;">Đất quốc phòng, an ninh</div>
<div class="m b s" style="left:256px;width:66px;top:741px;">CQA</div>
<div class="r b" style="left:322px;width:84px;top:741px;padding-right:2.6px;">270.688</div>
<div class="r b" style="left:406px;width:84px;top:741px;padding-right:2.6px;">268.386</div>
<div class="r b" style="left:644px;width:77px;top:741px;padding-right:2.6px;">268.025</div>
<div class="r b" style="left:721px;width:76px;top:741px;padding-right:2.6px;">43</div>
<div class="r b" style="left:859px;width:74px;top:741px;padding-right:2.6px;">306</div>
<div class="r b" style="left:933px;width:54px;top:741px;padding-right:2.6px;">12</div>
<div class="r b" style="left:1287px;width:76px;top:741px;padding-right:2.6px;">2.302</div>
<div class="r b" style="left:1363px;width:78px;top:741px;padding-right:2.6px;">2.298</div>
<div class="r b" style="left:1441px;width:75px;top:741px;padding-right:2.6px;">3</div>
<div class="r b" style="left:1516px;width:65px;top:741px;padding-right:2.6px;">1</div>
<div class="r  s" style="left:27.5px;width:38.5px;top:760px;padding-right:3px;">3.1</div>
<div class="l  s" style="left:66px;width:190px;top:760px;padding-left:2.3px;">Đất quốc phòng</div>
<div class="m  s" style="left:256px;width:66px;top:760px;">CQP</div>
<div class="r " style="left:322px;width:84px;top:760px;padding-right:2.6px;">218.568</div>
<div class="r " style="left:406px;width:84px;top:760px;padding-right:2.6px;">216.774</div>
<div class="r " style="left:644px;width:77px;top:760px;padding-right:2.6px;">216.438</div>
<div class="r " style="left:721px;width:76px;top:760px;padding-right:2.6px;">30</div>
<div class="r " style="left:859px;width:74px;top:760px;padding-right:2.6px;">306</div>
<div class="r " style="left:1287px;width:76px;top:760px;padding-right:2.6px;">1.795</div>
<div class="r " style="left:1363px;width:78px;top:760px;padding-right:2.6px;">1.792</div>
<div class="r " style="left:1441px;width:75px;top:760px;padding-right:2.6px;">3</div>
<div class="r  s" style="left:27.5px;width:38.5px;top:778px;padding-right:3px;">3.2</div>
<div class="l  s" style="left:66px;width:190px;top:778px;padding-left:2.3px;">Đất an ninh</div>
<div class="m  s" style="left:256px;width:66px;top:778px;">CAN</div>
<div class="r " style="left:322px;width:84px;top:778px;padding-right:2.6px;">52.119</div>
<div class="r " style="left:406px;width:84px;top:778px;padding-right:2.6px;">51.612</div>
<div class="r " style="left:644px;width:77px;top:778px;padding-right:2.6px;">51.587</div>
<div class="r " style="left:721px;width:76px;top:778px;padding-right:2.6px;">13</div>
<div class="r " style="left:859px;width:74px;top:778px;padding-right:2.6px;">0</div>
<div class="r " style="left:933px;width:54px;top:778px;padding-right:2.6px;">12</div>
<div class="r " style="left:1287px;width:76px;top:778px;padding-right:2.6px;">507</div>
<div class="r " style="left:1363px;width:78px;top:778px;padding-right:2.6px;">506</div>
<div class="r " style="left:1441px;width:75px;top:778px;padding-right:2.6px;">1</div>
<div class="r " style="left:1516px;width:65px;top:778px;padding-right:2.6px;">1</div>
<svg width="1676" height="792" viewBox="0 0 1676 792" fill="none"><defs><pattern id="dt" width="5.4" height="6.4" patternUnits="userSpaceOnUse" patternTransform="rotate(28)"><ellipse cx="1.35" cy="1.6" rx="1.0" ry="1.75" fill="#000"/><ellipse cx="4.05" cy="4.8" rx="1.0" ry="1.75" fill="#000"/></pattern><pattern id="dt2" width="5.4" height="6.4" patternUnits="userSpaceOnUse" patternTransform="rotate(-28)"><ellipse cx="1.35" cy="1.6" rx="1.0" ry="1.75" fill="#000"/><ellipse cx="4.05" cy="4.8" rx="1.0" ry="1.75" fill="#000"/></pattern><filter id="rg" x="-5%" y="-5%" width="110%" height="110%" color-interpolation-filters="sRGB"><feTurbulence type="fractalNoise" baseFrequency="0.4" numOctaves="2" seed="7" result="n"/><feDisplacementMap in="SourceGraphic" in2="n" scale="1.5" xChannelSelector="R" yChannelSelector="G" result="d"/><feTurbulence type="fractalNoise" baseFrequency="0.55" numOctaves="2" seed="3" result="n2"/><feColorMatrix in="n2" type="matrix" values="0 0 0 0 0  0 0 0 0 0  0 0 0 0 0  0 0 0 -2.6 2.48" result="m"/><feComposite in="d" in2="m" operator="in" result="c"/><feGaussianBlur in="c" stdDeviation="0.35"/><feComponentTransfer><feFuncA type="linear" slope="1.45"/></feComponentTransfer></filter><mask id="mA" maskUnits="userSpaceOnUse" x="520" y="-20" width="180" height="170"><rect x="520" y="-20" width="180" height="170" fill="#fff"/><path d="M615.28 -0.99 L619.18 -0.43 L623.04 0.32 L626.84 1.28 L630.56 2.43 L634.21 3.78 L637.76 5.31 L641.20 7.02 L644.52 8.91 L647.71 10.96 L650.76 13.18 L653.66 15.55 L656.40 18.07 L658.96 20.73 L661.34 23.51 L663.53 26.41 L665.53 29.43 L667.33 32.54 L668.91 35.73 L670.28 39.01 L671.43 42.35 L672.36 45.74 L673.06 49.18 L673.53 52.65 L673.77 56.13 L673.77 59.62 L673.55 63.11 L673.10 66.58 L672.41 70.01 L671.50 73.41 L670.37 76.76 L669.01 80.04 L667.44 83.24 L665.67 86.36 L663.68 89.38 L661.50 92.29 L659.13 95.08 L656.58 97.75 L653.86 100.27 L650.97 102.66 L647.93 104.89 L629.50 97.84 L631.88 96.36 L634.17 94.75 L636.35 93.00 L638.43 91.12 L640.38 89.11 L642.21 87.00 L643.91 84.77 L645.47 82.44 L646.88 80.03 L648.15 77.53 L649.26 74.96 L650.21 72.33 L651.00 69.64 L651.63 66.92 L652.09 64.15 L652.38 61.37 L652.50 58.57 L652.45 55.77 L652.23 52.98 L651.84 50.21 L651.28 47.47 L650.55 44.76 L649.67 42.11 L648.62 39.51 L647.42 36.98 L646.06 34.53 L644.56 32.17 L642.92 29.90 L641.14 27.74 L639.24 25.69 L637.21 23.75 L635.07 21.95 L632.83 20.28 L630.48 18.75 L628.05 17.36 L625.54 16.13 L622.96 15.04 L620.31 14.12 L617.62 13.36 L614.88 12.77 Z" fill="url(#dt)"/><path d="M597.72 -0.99 L593.82 -0.43 L589.96 0.32 L586.16 1.28 L582.44 2.43 L578.79 3.78 L575.24 5.31 L571.80 7.02 L568.48 8.91 L565.29 10.96 L562.24 13.18 L559.34 15.55 L556.60 18.07 L554.04 20.73 L551.66 23.51 L549.47 26.41 L547.47 29.43 L545.67 32.54 L544.09 35.73 L542.72 39.01 L541.57 42.35 L540.64 45.74 L539.94 49.18 L539.47 52.65 L539.23 56.13 L539.23 59.62 L539.45 63.11 L539.90 66.58 L540.59 70.01 L541.50 73.41 L542.63 76.76 L543.99 80.04 L545.56 83.24 L547.33 86.36 L549.32 89.38 L551.50 92.29 L553.87 95.08 L556.42 97.75 L559.14 100.27 L562.03 102.66 L565.07 104.89 L583.50 97.84 L581.12 96.36 L578.83 94.75 L576.65 93.00 L574.57 91.12 L572.62 89.11 L570.79 87.00 L569.09 84.77 L567.53 82.44 L566.12 80.03 L564.85 77.53 L563.74 74.96 L562.79 72.33 L562.00 69.64 L561.37 66.92 L560.91 64.15 L560.62 61.37 L560.50 58.57 L560.55 55.77 L560.77 52.98 L561.16 50.21 L561.72 47.47 L562.45 44.76 L563.33 42.11 L564.38 39.51 L565.58 36.98 L566.94 34.53 L568.44 32.17 L570.08 29.90 L571.86 27.74 L573.76 25.69 L575.79 23.75 L577.93 21.95 L580.17 20.28 L582.52 18.75 L584.95 17.36 L587.46 16.13 L590.04 15.04 L592.69 14.12 L595.38 13.36 L598.12 12.77 Z" fill="url(#dt2)"/><path d="M587.5 60 C593.5 63 586.5 80 579.5 98 L560.5 104 C560.5 92 562.5 76 566.5 64 Z" fill="url(#dt2)"/><path d="M625.5 60 C619.5 63 626.5 80 633.5 98 L652.5 104 C652.5 92 650.5 76 646.5 64 Z" fill="url(#dt)"/><path d="M541.5 62.5 L562.5 71.5 L561.5 80.5 L543 72 Z" fill="#000"/><path d="M671.5 62.5 L652 70 L653 79.5 L670.5 72 Z" fill="#000"/><path d="M581 100 A24.5 27.5 0 0 1 630 100 Z" fill="#000"/><path d="M569.5 104 Q605.5 97 642 103.5 L643 115.2 Q605.5 108 569 116 Z" fill="#000"/><circle cx="572.6" cy="103.2" r="3.8" fill="#000"/><circle cx="640.3" cy="102.2" r="3.8" fill="#000"/></mask></defs><g filter="url(#rg)"><circle cx="608" cy="66.2" r="110.6" stroke="#d9121f" stroke-width="3.7"/><circle cx="608" cy="66.2" r="104.9" stroke="#d9121f" stroke-width="2.2"/><circle cx="606.2" cy="65.8" r="75.3" stroke="#d9121f" stroke-width="2.1"/><g font-family="Liberation Sans, sans-serif" font-size="18.9" text-anchor="middle" fill="#d9121f" stroke="#d9121f" stroke-width="1.0" stroke-linejoin="round"><text transform="rotate(210 606.8 66.2) translate(606.8 -16.7)">B</text><text transform="rotate(220.7 606.8 66.2) translate(606.8 -16.7)">Ộ</text><text transform="rotate(245.3 606.8 66.2) translate(606.8 -16.7)">N</text><text transform="rotate(256.9 606.8 66.2) translate(606.8 -16.7)">Ô</text><text transform="rotate(266.7 606.8 66.2) translate(606.8 -16.7)">N</text><text transform="rotate(278.3 606.8 66.2) translate(606.8 -16.7)">G</text><text transform="rotate(302.8 606.8 66.2) translate(606.8 -16.7)">N</text><text transform="rotate(313.2 606.8 66.2) translate(606.8 -16.7)">G</text><text transform="rotate(324.5 606.8 66.2) translate(606.8 -16.7)">H</text><text transform="rotate(334 606.8 66.2) translate(606.8 -16.7)">I</text><text transform="rotate(344 606.8 66.2) translate(606.8 -16.7)">Ệ</text><text transform="rotate(355 606.8 66.2) translate(606.8 -16.7)">P</text><text transform="rotate(378 606.8 66.2) translate(606.8 -16.7)">V</text><text transform="rotate(389 606.8 66.2) translate(606.8 -16.7)">À</text><text transform="rotate(410.6 606.8 66.2) translate(606.8 -16.7)">M</text><text transform="rotate(423.1 606.8 66.2) translate(606.8 -16.7)">Ô</text><text transform="rotate(431.6 606.8 66.2) translate(606.8 -16.7)">I</text><text transform="rotate(454.7 606.8 66.2) translate(606.8 -16.7)">T</text><text transform="rotate(464.5 606.8 66.2) translate(606.8 -16.7)">R</text><text transform="rotate(477 606.8 66.2) translate(606.8 -16.7)">Ư</text><text transform="rotate(486.8 606.8 66.2) translate(606.8 -16.7)">Ờ</text><text transform="rotate(498 606.8 66.2) translate(606.8 -16.7)">N</text><text transform="rotate(509.6 606.8 66.2) translate(606.8 -16.7)">G</text></g><path d="M607.40 150.60 L609.28 156.01 L615.01 156.13 L610.44 159.59 L612.10 165.07 L607.40 161.80 L602.70 165.07 L604.36 159.59 L599.79 156.13 L605.52 156.01 Z" fill="#d9121f"/><g mask="url(#mA)" fill="#d9121f"><path d="M615.28 -0.99 L619.18 -0.43 L623.04 0.32 L626.84 1.28 L630.56 2.43 L634.21 3.78 L637.76 5.31 L641.20 7.02 L644.52 8.91 L647.71 10.96 L650.76 13.18 L653.66 15.55 L656.40 18.07 L658.96 20.73 L661.34 23.51 L663.53 26.41 L665.53 29.43 L667.33 32.54 L668.91 35.73 L670.28 39.01 L671.43 42.35 L672.36 45.74 L673.06 49.18 L673.53 52.65 L673.77 56.13 L673.77 59.62 L673.55 63.11 L673.10 66.58 L672.41 70.01 L671.50 73.41 L670.37 76.76 L669.01 80.04 L667.44 83.24 L665.67 86.36 L663.68 89.38 L661.50 92.29 L659.13 95.08 L656.58 97.75 L653.86 100.27 L650.97 102.66 L647.93 104.89 L629.50 97.84 L631.88 96.36 L634.17 94.75 L636.35 93.00 L638.43 91.12 L640.38 89.11 L642.21 87.00 L643.91 84.77 L645.47 82.44 L646.88 80.03 L648.15 77.53 L649.26 74.96 L650.21 72.33 L651.00 69.64 L651.63 66.92 L652.09 64.15 L652.38 61.37 L652.50 58.57 L652.45 55.77 L652.23 52.98 L651.84 50.21 L651.28 47.47 L650.55 44.76 L649.67 42.11 L648.62 39.51 L647.42 36.98 L646.06 34.53 L644.56 32.17 L642.92 29.90 L641.14 27.74 L639.24 25.69 L637.21 23.75 L635.07 21.95 L632.83 20.28 L630.48 18.75 L628.05 17.36 L625.54 16.13 L622.96 15.04 L620.31 14.12 L617.62 13.36 L614.88 12.77 Z"/><path d="M597.72 -0.99 L593.82 -0.43 L589.96 0.32 L586.16 1.28 L582.44 2.43 L578.79 3.78 L575.24 5.31 L571.80 7.02 L568.48 8.91 L565.29 10.96 L562.24 13.18 L559.34 15.55 L556.60 18.07 L554.04 20.73 L551.66 23.51 L549.47 26.41 L547.47 29.43 L545.67 32.54 L544.09 35.73 L542.72 39.01 L541.57 42.35 L540.64 45.74 L539.94 49.18 L539.47 52.65 L539.23 56.13 L539.23 59.62 L539.45 63.11 L539.90 66.58 L540.59 70.01 L541.50 73.41 L542.63 76.76 L543.99 80.04 L545.56 83.24 L547.33 86.36 L549.32 89.38 L551.50 92.29 L553.87 95.08 L556.42 97.75 L559.14 100.27 L562.03 102.66 L565.07 104.89 L583.50 97.84 L581.12 96.36 L578.83 94.75 L576.65 93.00 L574.57 91.12 L572.62 89.11 L570.79 87.00 L569.09 84.77 L567.53 82.44 L566.12 80.03 L564.85 77.53 L563.74 74.96 L562.79 72.33 L562.00 69.64 L561.37 66.92 L560.91 64.15 L560.62 61.37 L560.50 58.57 L560.55 55.77 L560.77 52.98 L561.16 50.21 L561.72 47.47 L562.45 44.76 L563.33 42.11 L564.38 39.51 L565.58 36.98 L566.94 34.53 L568.44 32.17 L570.08 29.90 L571.86 27.74 L573.76 25.69 L575.79 23.75 L577.93 21.95 L580.17 20.28 L582.52 18.75 L584.95 17.36 L587.46 16.13 L590.04 15.04 L592.69 14.12 L595.38 13.36 L598.12 12.77 Z"/><path d="M587.5 60 C593.5 63 586.5 80 579.5 98 L560.5 104 C560.5 92 562.5 76 566.5 64 Z"/><path d="M625.5 60 C619.5 63 626.5 80 633.5 98 L652.5 104 C652.5 92 650.5 76 646.5 64 Z"/></g><path d="M541.5 62.5 L562.5 71.5 L561.5 80.5 L543 72 Z" stroke="#d9121f" stroke-width="0.9"/><path d="M671.5 62.5 L652 70 L653 79.5 L670.5 72 Z" stroke="#d9121f" stroke-width="0.9"/><path d="M604.50 19.50 L609.03 33.07 L623.33 33.18 L611.82 41.68 L616.14 55.32 L604.50 47.00 L592.86 55.32 L597.18 41.68 L585.67 33.18 L599.97 33.07 Z M604.50 23.30 L608.14 34.28 L619.72 34.36 L610.40 41.22 L613.90 52.24 L604.50 45.50 L595.10 52.24 L598.60 41.22 L589.28 34.36 L600.86 34.28 Z" fill="#d9121f" fill-rule="evenodd"/><path d="M604.50 39.30 L604.50 25.70 L607.62 35.01 Z" fill="#d9121f"/><path d="M604.50 39.30 L607.62 35.01 L617.43 35.10 Z" fill="#d9121f" fill-opacity="0.45"/><path d="M607.62 35.01 L617.43 35.10" stroke="#d9121f" stroke-width="0.9"/><path d="M604.50 39.30 L617.43 35.10 L609.54 40.94 Z" fill="#d9121f"/><path d="M604.50 39.30 L609.54 40.94 L612.49 50.30 Z" fill="#d9121f" fill-opacity="0.45"/><path d="M609.54 40.94 L612.49 50.30" stroke="#d9121f" stroke-width="0.9"/><path d="M604.50 39.30 L612.49 50.30 L604.50 44.60 Z" fill="#d9121f"/><path d="M604.50 39.30 L604.50 44.60 L596.51 50.30 Z" fill="#d9121f" fill-opacity="0.45"/><path d="M604.50 44.60 L596.51 50.30" stroke="#d9121f" stroke-width="0.9"/><path d="M604.50 39.30 L596.51 50.30 L599.46 40.94 Z" fill="#d9121f"/><path d="M604.50 39.30 L599.46 40.94 L591.57 35.10 Z" fill="#d9121f" fill-opacity="0.45"/><path d="M599.46 40.94 L591.57 35.10" stroke="#d9121f" stroke-width="0.9"/><path d="M604.50 39.30 L591.57 35.10 L601.38 35.01 Z" fill="#d9121f"/><path d="M604.50 39.30 L601.38 35.01 L604.50 25.70 Z" fill="#d9121f" fill-opacity="0.45"/><path d="M601.38 35.01 L604.50 25.70" stroke="#d9121f" stroke-width="0.9"/><path d="M583.9 100 A21.6 24.6 0 0 1 627.1 100" stroke="#d9121f" stroke-width="4.2" stroke-dasharray="2.2 1.5"/><path d="M586.3 100 A19.2 22 0 0 1 624.7 100" stroke="#d9121f" stroke-width="0.9"/><path d="M590.9 100 A14.6 18.2 0 0 1 620.1 100" stroke="#d9121f" stroke-width="1.6"/><path d="M596.3 100 A9.2 12.8 0 0 1 614.7 100" stroke="#d9121f" stroke-width="1.5"/><path d="M600.2 100 A5.3 8.4 0 0 1 610.8 100" stroke="#d9121f" stroke-width="1.5"/><circle cx="605.5" cy="96.4" r="2.1" fill="#d9121f"/><path d="M569.5 104 Q605.5 97 642 103.5 L643 115.2 Q605.5 108 569 116 Z" stroke="#d9121f" stroke-width="1.4"/><path d="M581 106.9 Q605.5 102.6 631 106.6" stroke="#d9121f" stroke-width="1.9" stroke-dasharray="2.6 1.0"/><path d="M589 111.4 Q605.5 109.8 624 111.2" stroke="#d9121f" stroke-width="2.6" stroke-dasharray="1.5 1.3"/><circle cx="572.6" cy="103.2" r="3.3" stroke="#d9121f" stroke-width="1.4"/><circle cx="640.3" cy="102.2" r="3.3" stroke="#d9121f" stroke-width="1.4"/><path d="M576.5 115.2 L600 116.8" stroke="#d9121f" stroke-width="1.5"/><path d="M575.3 117.6 L600 119.8" stroke="#d9121f" stroke-width="1.5"/><path d="M574.1 120.4 L600 122.7" stroke="#d9121f" stroke-width="1.5"/><path d="M572.9 123.4 L600 125.8" stroke="#d9121f" stroke-width="1.5"/><path d="M571.7 126.4 L600 128.5" stroke="#d9121f" stroke-width="1.5"/><path d="M577 114.5 L567.5 129.5" stroke="#d9121f" stroke-width="1.6"/><path d="M632.5 115.2 L609 116.8" stroke="#d9121f" stroke-width="1.5"/><path d="M633.7 117.6 L609 119.8" stroke="#d9121f" stroke-width="1.5"/><path d="M634.9 120.4 L609 122.7" stroke="#d9121f" stroke-width="1.5"/><path d="M636.1 123.4 L609 125.8" stroke="#d9121f" stroke-width="1.5"/><path d="M637.3 126.4 L609 128.5" stroke="#d9121f" stroke-width="1.5"/><path d="M632 114.5 L641.5 129.5" stroke="#d9121f" stroke-width="1.6"/><rect x="600.3" y="116.3" width="8.4" height="8.8" stroke="#d9121f" stroke-width="1.2"/><path d="M602.5 117 V125 M604.5 117 V125 M606.5 117 V125" stroke="#d9121f" stroke-width="0.9"/></g></svg>
</div></body></html>
